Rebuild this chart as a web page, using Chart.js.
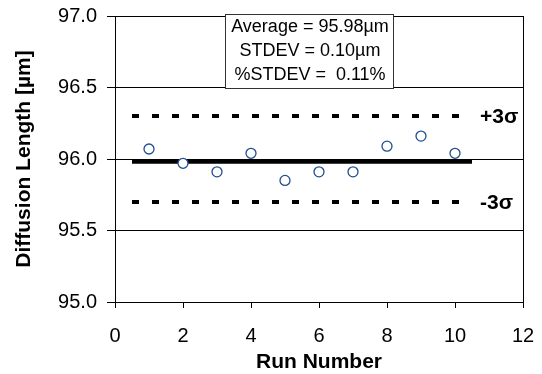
<!DOCTYPE html>
<html>
<head>
<meta charset="utf-8">
<script src="https://cdn.jsdelivr.net/npm/chart.js@4/dist/chart.umd.min.js"></script>
<style>
    html, body { margin: 0; padding: 0; background: #fff; }
    #wrap { width: 542px; height: 374px; }
</style>
</head>
<body>
<div id="wrap"><canvas id="runChart"></canvas></div>
<script>
// Data
const runNumbers = [1, 2, 3, 4, 5, 6, 7, 8, 9, 10];
const diffusionLength = [96.07, 95.97, 95.91, 96.04, 95.85, 95.91, 95.91, 96.09, 96.16, 96.04];
const averageValue = 95.98;
const plus3Sigma = 96.30;
const minus3Sigma = 95.70;
const refLineX = [0.5, 10.5];
const statsLines = ['Average = 95.98\u00b5m', 'STDEV = 0.10\u00b5m', '%STDEV =  0.11%'];
const yTicks = [95.0, 95.5, 96.0, 96.5, 97.0];
const xTicks = [0, 2, 4, 6, 8, 10, 12];

const FONT = 'Arial, "Liberation Sans", sans-serif';

function hLine(yVal) {
    return refLineX.map(function(x) { return { x: x, y: yVal }; });
}

// keep the plot area where the layout padding puts it
function noLabelPadding(s) {
    s.paddingTop = 0;
    s.paddingBottom = 0;
    s.paddingLeft = 0;
    s.paddingRight = 0;
}

// Stats box and sigma labels
const annotations = {
    id: 'annotations',
    afterDatasetsDraw: function(chart) {
        const ctx = chart.ctx;
        const xs = chart.scales.x;
        const ys = chart.scales.y;
        ctx.save();

        ctx.font = 'bold 21px ' + FONT;
        ctx.fillStyle = '#000';
        ctx.textAlign = 'left';
        ctx.textBaseline = 'middle';
        const labelX = xs.getPixelForValue(10.5) + 8;
        ctx.fillText('+3\u03c3', labelX, ys.getPixelForValue(plus3Sigma) + 1);
        ctx.fillText('-3\u03c3', labelX, ys.getPixelForValue(minus3Sigma) + 1);

        const boxL = 225, boxT = 14, boxW = 168, boxH = 74;
        ctx.fillStyle = '#fff';
        ctx.fillRect(boxL, boxT, boxW, boxH);
        ctx.strokeStyle = '#333';
        ctx.lineWidth = 1;
        ctx.strokeRect(boxL + 0.5, boxT + 0.5, boxW, boxH);
        ctx.fillStyle = '#000';
        ctx.font = '18px ' + FONT;
        ctx.textAlign = 'center';
        statsLines.forEach(function(t, i) {
            ctx.fillText(t, boxL + boxW / 2 + 1, boxT + 13 + i * 24);
        });
        ctx.restore();
    }
};

new Chart(document.getElementById('runChart'), {
    type: 'scatter',
    data: {
        datasets: [
            {
                label: 'Diffusion Length',
                data: runNumbers.map(function(r, i) { return { x: r, y: diffusionLength[i] }; }),
                pointStyle: 'circle',
                pointRadius: 5,
                pointBorderWidth: 1.3,
                borderColor: '#1f4e8c',
                backgroundColor: '#fff',
                order: 0
            },
            {
                type: 'line',
                label: 'Average',
                data: hLine(averageValue),
                borderColor: '#000',
                borderWidth: 4,
                pointRadius: 0,
                order: 1
            },
            {
                type: 'line',
                label: '+3 sigma',
                data: hLine(plus3Sigma),
                borderColor: '#000',
                borderWidth: 4,
                borderDash: [7, 13],
                pointRadius: 0,
                order: 1
            },
            {
                type: 'line',
                label: '-3 sigma',
                data: hLine(minus3Sigma),
                borderColor: '#000',
                borderWidth: 4,
                borderDash: [7, 13],
                pointRadius: 0,
                order: 1
            }
        ]
    },
    options: {
        responsive: true,
        maintainAspectRatio: false,
        animation: false,
        layout: {
            padding: { left: 0, right: 19, top: 16, bottom: 0 }
        },
        plugins: {
            legend: { display: false },
            tooltip: { enabled: false }
        },
        scales: {
            x: {
                type: 'linear',
                min: 0,
                max: 12,
                afterBuildTicks: function(s) { s.ticks = xTicks.map(function(v) { return { value: v }; }); },
                afterFit: function(s) { s.height = 72; noLabelPadding(s); },
                ticks: {
                    color: '#000',
                    font: { family: FONT, size: 20 },
                    padding: 16,
                    maxRotation: 0
                },
                grid: {
                    drawOnChartArea: true,
                    color: function(c) { return c.tick && c.tick.value === 12 ? '#000' : 'rgba(0,0,0,0)'; },
                    tickColor: '#000',
                    tickLength: 6,
                    lineWidth: 1
                },
                border: { color: '#000', width: 1 },
                title: {
                    display: true,
                    text: 'Run Number',
                    color: '#000',
                    font: { family: FONT, size: 21, weight: 'bold' },
                    padding: { top: 0, bottom: -1 }
                }
            },
            y: {
                min: 95,
                max: 97,
                afterBuildTicks: function(s) { s.ticks = yTicks.map(function(v) { return { value: v }; }); },
                afterFit: function(s) { s.width = 115; noLabelPadding(s); },
                ticks: {
                    color: '#000',
                    font: { family: FONT, size: 20 },
                    padding: 10,
                    callback: function(v) { return Number(v).toFixed(1); }
                },
                grid: {
                    color: '#000',
                    tickColor: '#000',
                    tickLength: 8,
                    lineWidth: 1
                },
                border: { color: '#000', width: 1 },
                title: {
                    display: true,
                    text: 'Diffusion Length [\u00b5m]',
                    color: '#000',
                    font: { family: FONT, size: 21, weight: 'bold' },
                    padding: { top: 12, bottom: 0 }
                }
            }
        }
    },
    plugins: [annotations]
});
</script>
</body>
</html>
